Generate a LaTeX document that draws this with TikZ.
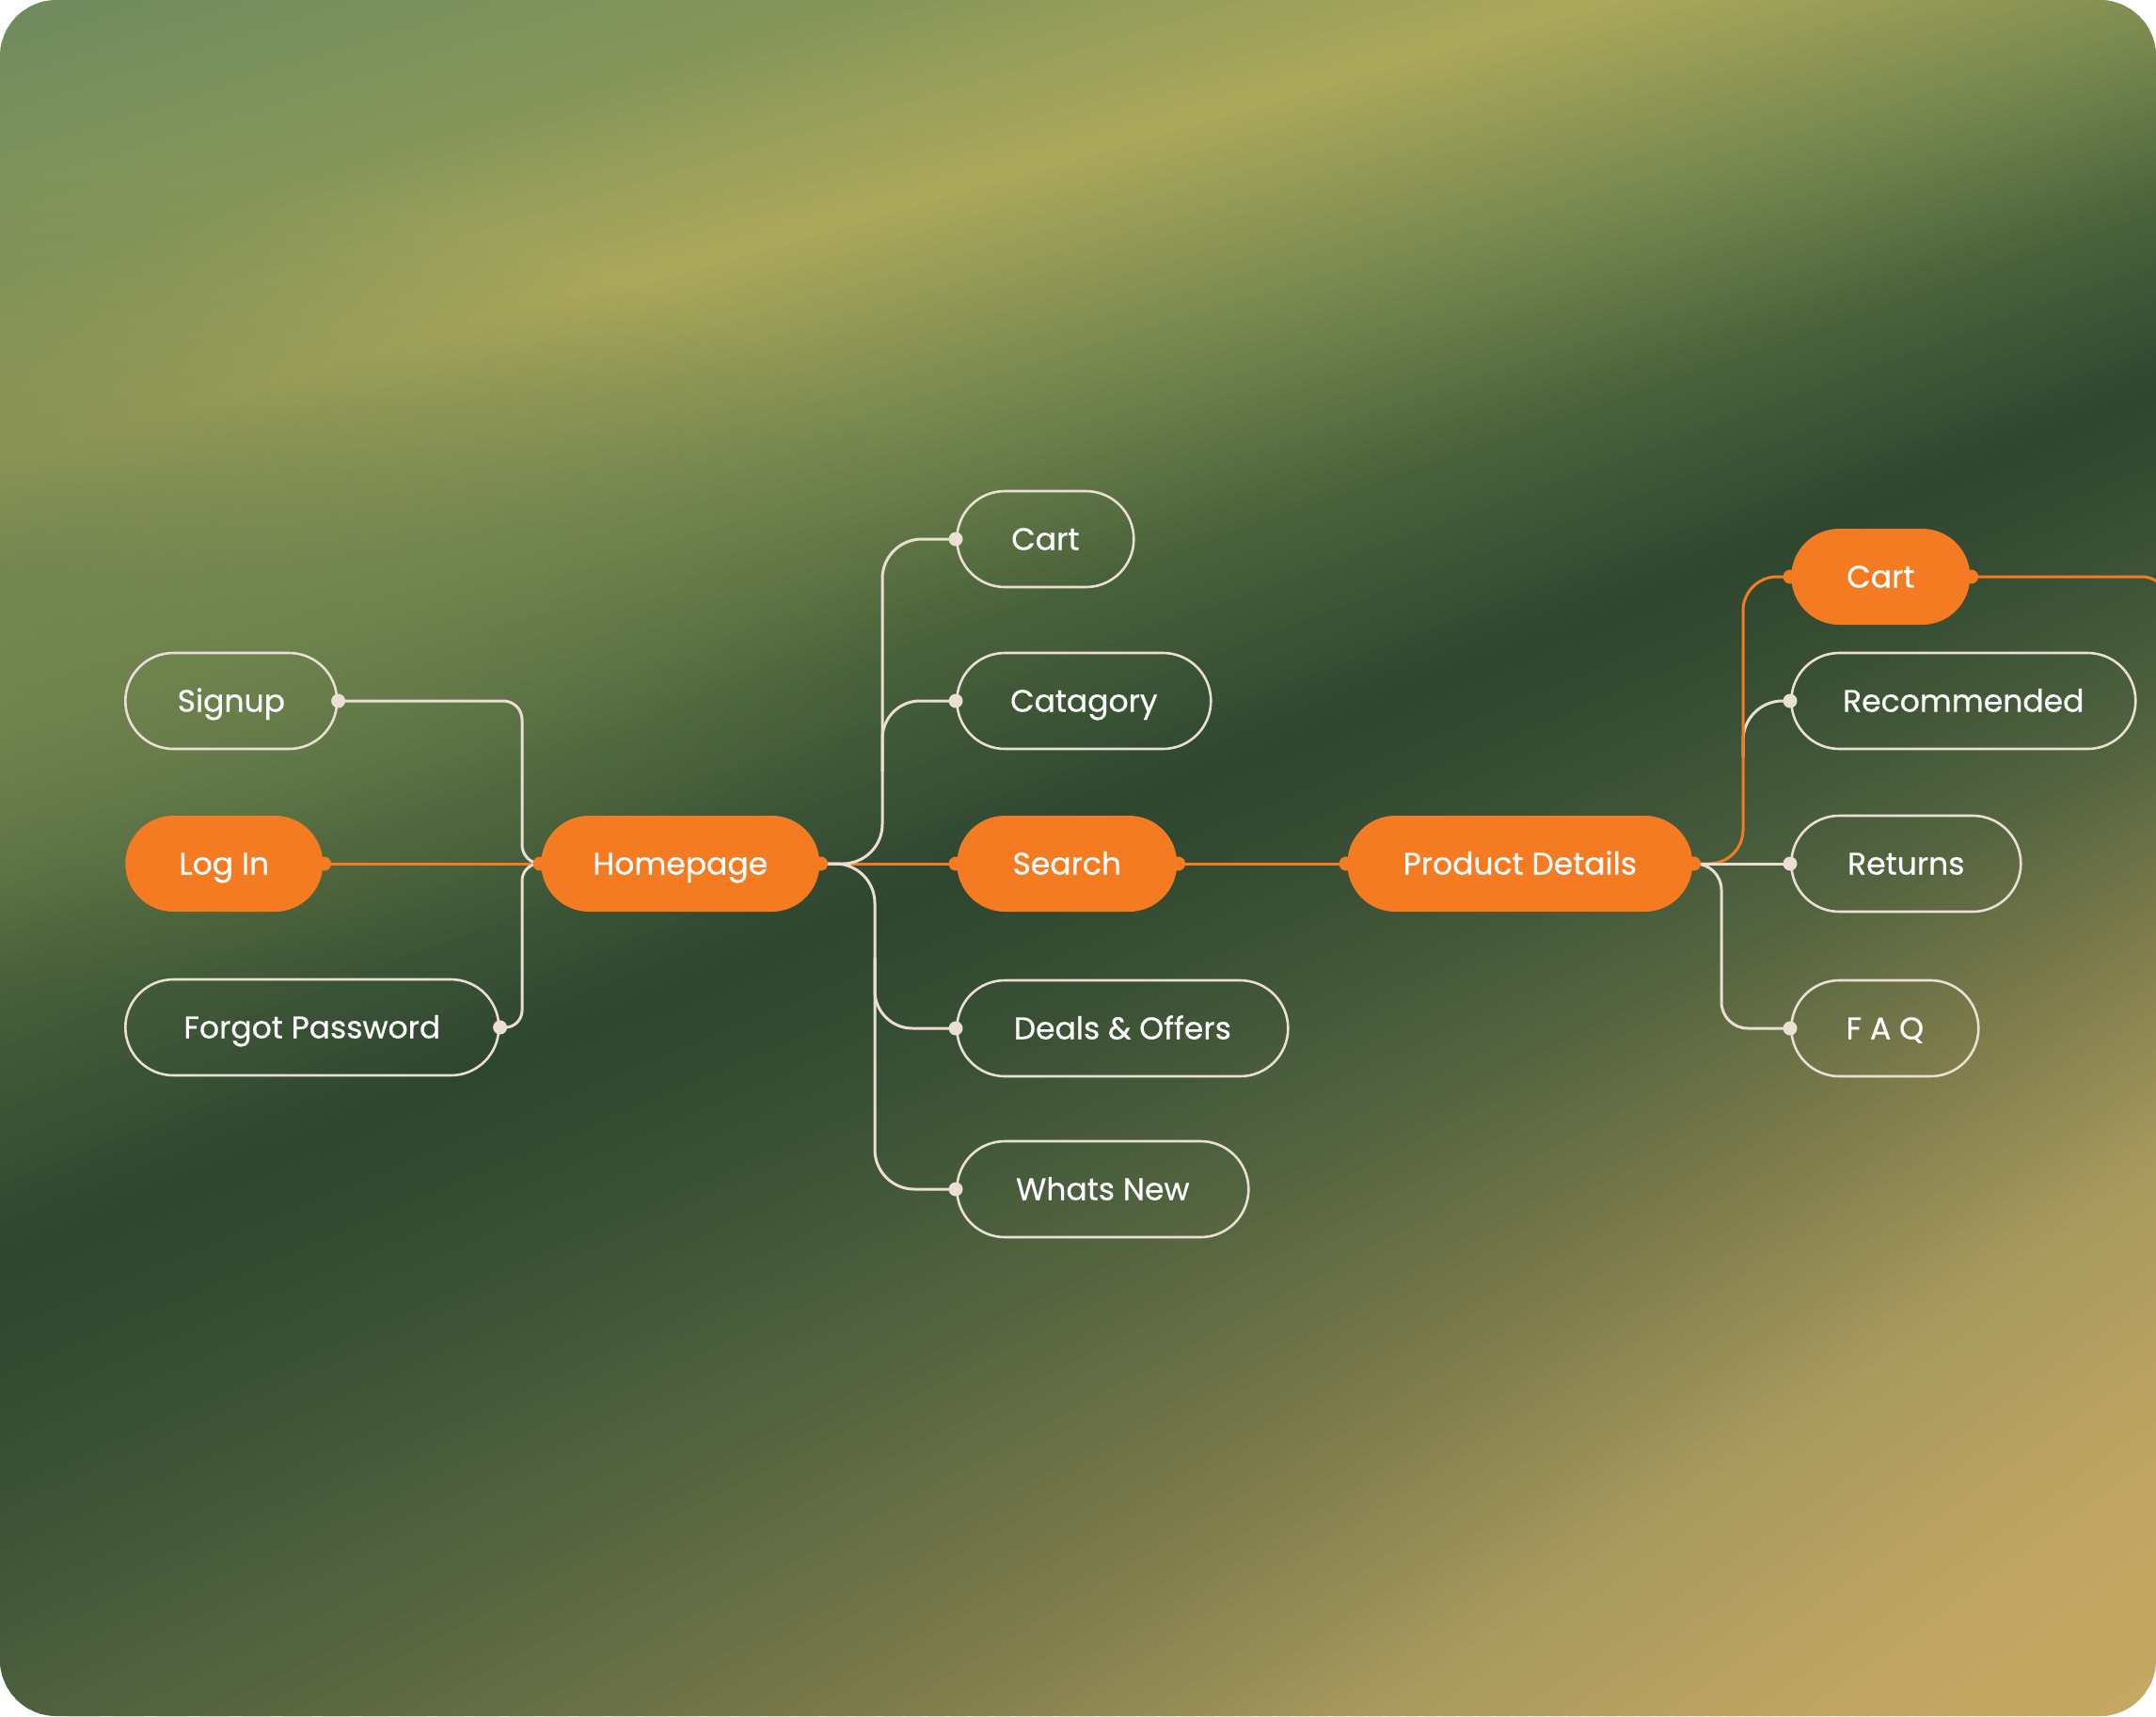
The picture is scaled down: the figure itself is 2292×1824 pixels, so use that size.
\documentclass[tikz,border=0pt]{standalone}
\usepackage{fontspec}
\setmainfont{Poppins}
\newfontfamily\lblfont{Poppins}[FakeBold=0.6]
\usetikzlibrary{calc,fadings}
\definecolor{k0}{HTML}{6F8A5E}
\definecolor{k1}{HTML}{6F8A5E}
\definecolor{k2}{HTML}{85965A}
\definecolor{k3}{HTML}{ACA85B}
\definecolor{k4}{HTML}{7A8A50}
\definecolor{k5}{HTML}{4A623B}
\definecolor{k6}{HTML}{2E4630}
\definecolor{k7}{HTML}{3A5035}
\definecolor{k8}{HTML}{4E603E}
\definecolor{k9}{HTML}{7E7C4C}
\definecolor{k10}{HTML}{A89A5E}
\definecolor{k11}{HTML}{BFA462}
\definecolor{k12}{HTML}{C8AA62}
\definecolor{k13}{HTML}{C8AA62}
\definecolor{leftolive}{HTML}{6C8250}
\definecolor{orng}{HTML}{F57B22}
\definecolor{wirec}{HTML}{E9DFD3}
\tikzfading[name=softspot, inner color=transparent!0, outer color=transparent!100]
% one blurred band of the background between two slanted lines
\newcommand\bgband[6]{%
  \foreach \i in {0,...,23}{%
    \pgfmathsetmacro\ta{\i/24}%
    \pgfmathsetmacro\tb{(\i+1.7)/24}%
    \pgfmathsetmacro\pc{100-100*(\i+0.5)/24}%
    \fill[#3!\pc!#6] (-10,{(#1)+((#4)-(#1))*\ta}) -- (1580,{(#2)+((#5)-(#2))*\ta}) -- (1580,{(#2)+((#5)-(#2))*\tb}) -- (-10,{(#1)+((#4)-(#1))*\tb}) -- cycle;
  }}
\begin{document}
\begin{tikzpicture}[x=1pt,y=-1pt,
  pill/.style={rounded corners=51pt, minimum height=102pt, inner xsep=0pt, anchor=west, text=white, font=\lblfont\fontsize{33}{38}\selectfont, text height=23pt, text depth=0pt, line width=2.6pt},
  wpill/.style={pill, draw=wirec},
  opill/.style={pill, fill=orng},
  wire/.style={draw=wirec, line width=3pt},
  owire/.style={draw=orng, line width=3pt}
]
\useasboundingbox (0,0) rectangle (2292,1824);
\begin{scope}
\clip[rounded corners=60pt] (0,0) rectangle (2292,1824);
\begin{scope}[x=1.4617pt, y=-1.4617pt]
\bgband{-400}{-900}{k0}{0}{-500}{k1}
\bgband{0}{-500}{k1}{200}{-300}{k2}
\bgband{200}{-300}{k2}{340}{-120}{k3}
\bgband{340}{-120}{k3}{500}{20}{k4}
\bgband{500}{20}{k4}{700}{150}{k5}
\bgband{700}{150}{k5}{920}{280}{k6}
\bgband{920}{280}{k6}{1080}{380}{k7}
\bgband{1080}{380}{k7}{1260}{510}{k8}
\bgband{1260}{510}{k8}{1650}{670}{k9}
\bgband{1650}{670}{k9}{1950}{840}{k10}
\bgband{1950}{840}{k10}{2200}{1050}{k11}
\bgband{2200}{1050}{k11}{2450}{1300}{k12}
\bgband{2450}{1300}{k12}{2800}{1700}{k13}
\fill[leftolive, path fading=softspot, fill opacity=0.8] (0,430) ellipse (680 and 300);
\end{scope}

% nodes
\node[wpill, minimum width=225pt] (signup) at (132,745) {Signup};
\node[opill, minimum width=210pt] (login) at (132,918) {Log In};
\node[wpill, minimum width=397pt] (fp) at (132,1092) {Forgot Password};
\node[opill, minimum width=296pt] (home) at (574,918) {Homepage};
\node[wpill, minimum width=188pt] (cart) at (1016,573) {Cart};
\node[wpill, minimum width=270pt] (cat) at (1016,745) {Catagory};
\node[opill, minimum width=234pt] (search) at (1016,918) {Search};
\node[wpill, minimum width=352pt] (deals) at (1016,1093) {Deals \& Offers};
\node[wpill, minimum width=310pt] (whats) at (1016,1264) {Whats New};
\node[opill, minimum width=367pt] (pd) at (1431,918) {Product Details};
\node[opill, minimum width=190pt] (cart2) at (1903,613) {Cart};
\node[wpill, minimum width=366pt] (rec) at (1903,745) {Recommended};
\node[wpill, minimum width=244pt] (ret) at (1903,918) {Returns};
\node[wpill, minimum width=199pt] (faq) at (1903,1093) {F A Q};

% bus coordinates
\coordinate (jL) at (555,918);
\coordinate (busU) at (938,918);
\coordinate (busD) at (930,918);
\coordinate (busPU) at (1853,918);
\coordinate (busPD) at (1830,918);
\coordinate (offR) at (2305,1000);

% white branch leaving the orange line
\draw[wire, rounded corners=42pt] ($(busPU |- rec.west)+(0,60)$) |- (rec.west);

% orange connectors
\draw[owire] (login.east) -- (home.west);
\draw[owire] (home.east) -- (search.west);
\draw[owire] (search.east) -- (pd.west);
\draw[owire, rounded corners=36pt] (pd.east) -| (busPU |- cart2.west) -- (cart2.west);
\draw[owire, rounded corners=28pt] (cart2.east) -| (offR);

% white connectors
\draw[wire, rounded corners=20pt] (signup.east) -| (jL) -- (home.west);
\draw[wire, rounded corners=18pt] (fp.east) -| (jL) -- (home.west);
\draw[wire, rounded corners=42pt] (home.east) -| (busU |- cart.west) -- (cart.west);
\draw[wire, rounded corners=40pt] ($(busU |- cat.west)+(0,75)$) |- (cat.west);
\draw[wire, rounded corners=42pt] (home.east) -| (busD |- whats.west) -- (whats.west);
\draw[wire, rounded corners=40pt] ($(busD |- deals.west)+(0,-75)$) |- (deals.west);
\draw[wire] (pd.east) -- (ret.west);
\draw[wire, rounded corners=28pt] (pd.east) -| (busPD |- faq.west) -- (faq.west);

% dots
\foreach \p in {signup.east, fp.east, cart.west, cat.west, deals.west, whats.west, rec.west, ret.west, faq.west}
  \fill[wirec] (\p) circle (7.5pt);
\foreach \p in {login.east, home.west, home.east, search.west, search.east, pd.west, pd.east, cart2.west, cart2.east}
  \fill[orng] (\p) circle (7.5pt);
\end{scope}
\end{tikzpicture}
\end{document}
